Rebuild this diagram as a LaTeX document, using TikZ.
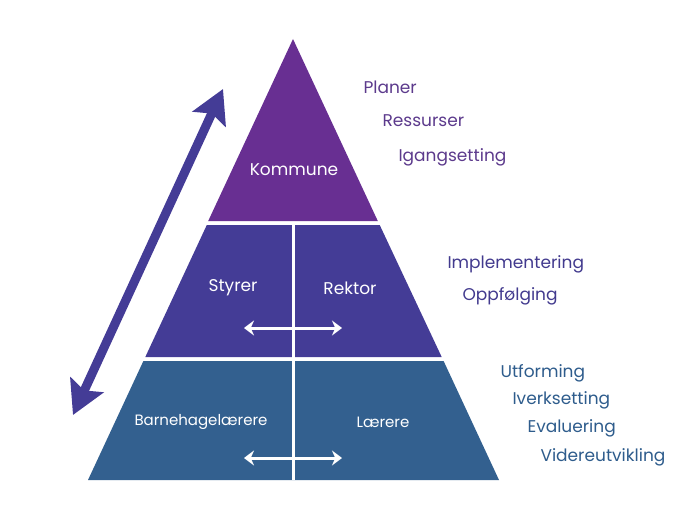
\documentclass[tikz,border=0pt]{standalone}
\usepackage{fontspec}
\setmainfont{Poppins}
\usetikzlibrary{arrows.meta}
\definecolor{kommune}{RGB}{104,47,146}
\definecolor{leder}{RGB}{68,60,150}
\definecolor{laerer}{RGB}{51,96,143}
\definecolor{tekstA}{RGB}{92,58,140}
\definecolor{tekstB}{RGB}{66,58,142}
\definecolor{tekstC}{RGB}{46,92,140}
\begin{document}
\begin{tikzpicture}[x=1pt,y=-1pt,
  inni/.style={text=white,font=\fontsize{17}{19}\selectfont},
  inniliten/.style={text=white,font=\fontsize{15}{17}\selectfont},
  oppgave/.style={anchor=west,font=\fontsize{17}{19}\selectfont},
  hvitpil/.style={white,line width=3pt,{Stealth[length=10pt,width=15pt]}-{Stealth[length=10pt,width=15pt]}}]
\useasboundingbox (0,0) rectangle (685,532);
\fill[kommune](293,39)--(377.8,221)--(208.2,221)--cycle;
\fill[leder](206.8,225)--(379.7,225)--(441.7,357)--(145.3,357)--cycle;
\fill[laerer](143.4,361)--(443.6,361)--(499,480)--(88,480)--cycle;
\coordinate(midtopp) at (293,225);
\coordinate(midbunn) at (293,480);
\draw[white,line width=3pt](midtopp)--(midbunn);
\coordinate(pilopp) at (223,89);
\coordinate(pilned) at (73,415);
\draw[leder,line width=9pt,{Stealth[length=33pt,width=36pt,inset=6pt]}-{Stealth[length=33pt,width=36pt,inset=6pt]}](pilned)--(pilopp);
\node[inni](kom) at (294,170){Kommune};
\node[inni](sty) at (233,288){Styrer};
\node[inni](rek) at (350,288){Rektor};
\node[inniliten](bhl) at (201,422){Barnehagelærere};
\node[inniliten](lae) at (383,422){Lærere};
\coordinate(ledv) at (244,328);
\coordinate(ledh) at (342,328);
\draw[hvitpil](ledv)--(ledh);
\coordinate(laev) at (244,458);
\coordinate(laeh) at (342,458);
\draw[hvitpil](laev)--(laeh);
\node[oppgave,text=tekstA](pla) at (360,87){Planer};
\node[oppgave,text=tekstA](res) at (379,121){Ressurser};
\node[oppgave,text=tekstA](iga) at (395,157){Igangsetting};
\node[oppgave,text=tekstB](imp) at (444,264){Implementering};
\node[oppgave,text=tekstB](opp) at (459,296){Oppfølging};
\node[oppgave,text=tekstC](utf) at (497,373){Utforming};
\node[oppgave,text=tekstC](ive) at (509,400){Iverksetting};
\node[oppgave,text=tekstC](eva) at (524,428){Evaluering};
\node[oppgave,text=tekstC](vid) at (537,457){Videreutvikling};
\end{tikzpicture}
\end{document}
